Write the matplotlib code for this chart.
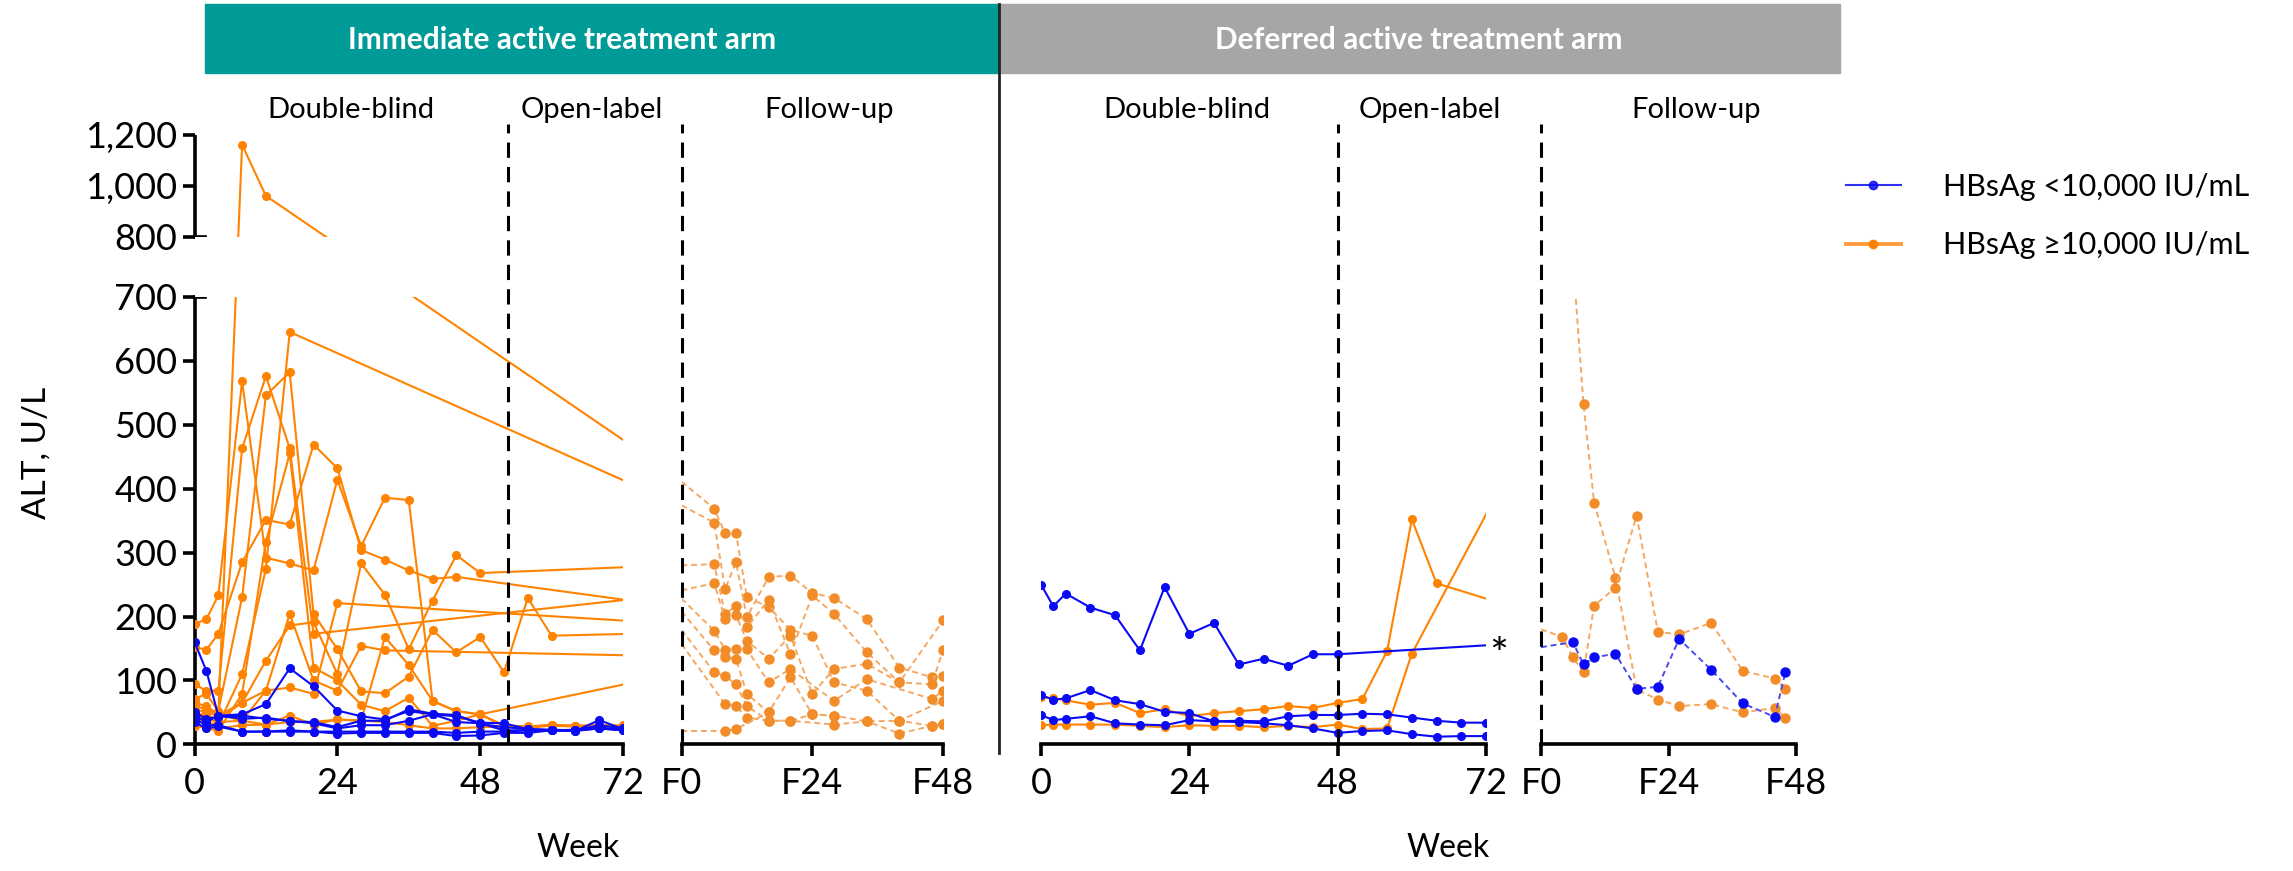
import numpy as np
import matplotlib
matplotlib.use('Agg')
import matplotlib.pyplot as plt
import matplotlib.transforms as mtransforms
from matplotlib.lines import Line2D
from matplotlib.patches import Rectangle

plt.rcParams['font.family'] = ['Lato', 'DejaVu Sans']

# ---------------- data ----------------
WEEKS = [0, 2, 4, 8, 12, 16, 20, 24, 28, 32, 36, 40, 44, 48, 52, 56, 60, 64, 68, 72]

# immediate arm, double-blind + open-label (weeks 0-72)
imm_blue = [
    [160, 115, 45, 47, 63, 119, 91, 53, 44, 39, 52, 47, 44, 34, 33, 24, 22, 21, 38, 24],
    [50, 40, 43, 45, 40, 37, 33, 25, 30, 30, 37, 47, 35, 33, 22, 22, 22, 21, 25, 22],
    [40, 30, 30, 20, 20, 20, 20, 17, 18, 18, 18, 18, 13, 14, 18, 18, 22, 22, 25, 22],
    [45, 35, 45, 40, 42, 36, 35, 27, 37, 37, 55, 48, 46, 32, 27, 24, 23, 22, 30, 25],
    [35, 25, 28, 20, 20, 22, 20, 20, 20, 20, 20, 20, 18, 20, 20, 22, 22, 23, 26, 24],
]
imm_orange_weeks = [
    [0, 2, 4, 8, 12, 84],
    WEEKS,
    [0, 2, 4, 8, 12, 16, 20, 24, 28, 32, 36, 40, 44, 96],
    [0, 2, 4, 8, 12, 16, 20, 96],
    [0, 2, 4, 8, 12, 16, 20, 24, 28, 32, 36, 40, 44, 48, 52, 56, 60, 96],
    [0, 2, 4, 8, 12, 16, 96],
    [0, 2, 4, 8, 12, 16, 20, 24, 28, 32, 36, 40, 44, 48, 96],
    [0, 2, 4, 8, 12, 16, 20, 24, 28, 32, 36, 40, 44, 48, 96],
    [0, 2, 4, 8, 12, 16, 20, 24, 28, 32, 96],
    [0, 2, 4, 8, 12, 16, 20, 24, 96],
    WEEKS,
    WEEKS,
]
imm_orange_alt = [
    [65, 60, 47, 1160, 960, 400],
    [188, 196, 233, 568, 292, 283, 272, 414, 310, 386, 382, 68, 52, 47, 30, 28, 31, 29, 30, 29],
    [152, 148, 173, 285, 351, 344, 469, 432, 304, 289, 272, 259, 262, 196],
    [94, 84, 84, 463, 576, 463, 173, 250],
    [71, 79, 52, 230, 546, 582, 204, 149, 83, 80, 106, 179, 144, 168, 113, 229, 170, 178],
    [40, 35, 30, 110, 275, 645, 314],
    [29, 26, 21, 79, 317, 455, 120, 100, 62, 52, 73, 29, 37, 47, 140],
    [50, 45, 40, 65, 131, 186, 191, 110, 283, 234, 149, 225, 296, 268, 286],
    [60, 55, 47, 37, 84, 204, 100, 84, 154, 147, 135],
    [55, 50, 45, 65, 84, 89, 79, 221, 180],
    [45, 40, 35, 37, 31, 45, 31, 39, 37, 168, 124, 68, 52, 47, 28, 27, 29, 28, 28, 30],
    [30, 28, 25, 30, 31, 35, 35, 39, 37, 35, 30, 25, 25, 27, 28, 26, 30, 29, 30, 28],
]

# immediate arm, follow-up (weeks F0-F48)
imm_fu_weeks = [
    [0, 6, 8, 10, 12, 16, 20, 24, 28, 34, 40, 46, 48],
    [0, 6, 8, 10, 12, 16, 20, 24, 28, 34, 40, 46, 48],
    [0, 6, 8, 10, 12, 16, 20, 24, 28, 34, 40, 46, 48],
    [0, 6, 8, 10, 12, 16, 20, 24, 28, 34, 40, 48],
    [0, 6, 8, 10, 12, 16, 20, 28, 34, 46, 48],
    [0, 6, 8, 10, 12, 16, 20, 24, 28, 34, 40, 48],
    [0, 6, 8, 10, 12, 16, 20, 28, 34, 40, 46, 48],
    [0, 8, 10, 12, 16, 20, 24, 28],
    [0, 8, 10, 16],
]
imm_fu_alt = [
    [411, 369, 330, 330, 230, 215, 179, 170, 97, 84, 37, 29, 32],
    [374, 347, 243, 285, 199, 262, 264, 237, 229, 196, 120, 105, 107],
    [280, 282, 204, 217, 183, 226, 141, 233, 204, 144, 97, 94, 148],
    [241, 252, 196, 202, 162, 134, 170, 79, 118, 126, 97, 194],
    [228, 178, 148, 149, 149, 97, 118, 68, 102, 71, 84],
    [208, 147, 136, 134, 79, 50, 105, 47, 45, 36, 37, 68],
    [179, 113, 107, 94, 60, 37, 37, 31, 36, 17, 29, 32],
    [157, 63, 60, 42, 37, 37, 47, 45],
    [21, 21, 24, 50],
]

# deferred arm, double-blind + open-label
def_blue_weeks = [WEEKS[:14] + [96], WEEKS, WEEKS]
def_blue_alt = [
    [250, 216, 236, 214, 202, 147, 246, 173, 190, 125, 134, 123, 141, 141, 169],
    [77, 70, 72, 85, 69, 63, 51, 49, 36, 37, 36, 44, 46, 46, 48, 47, 42, 37, 34, 34],
    [46, 38, 40, 44, 33, 31, 30, 38, 36, 35, 33, 30, 25, 18, 21, 22, 16, 12, 13, 13],
]
def_orange_weeks = [WEEKS[:18] + [80], WEEKS[:17] + [76]]
def_orange_alt = [
    [74, 72, 69, 62, 65, 49, 55, 44, 49, 52, 55, 60, 57, 65, 71, 146, 352, 252, 204],
    [30, 31, 31, 31, 31, 29, 27, 30, 29, 29, 27, 29, 27, 31, 24, 25, 142, 432],
]

# deferred arm, follow-up
def_fu_blue_weeks = [0, 6, 8, 10, 14, 18, 22, 26, 32, 38, 44, 46]
def_fu_blue_alt = [152, 160, 125, 136, 142, 87, 90, 165, 117, 64, 43, 113]
def_fu_orange_weeks = [
    [4, 6, 8, 10, 14, 18, 22, 26, 32, 38, 44, 46],
    [0, 4, 6, 8, 10, 14, 18, 22, 26, 32, 38, 44, 46],
]
def_fu_orange_alt = [
    [1000, 760, 532, 378, 261, 86, 70, 60, 63, 50, 57, 42],
    [180, 168, 136, 113, 217, 245, 358, 176, 172, 190, 115, 103, 86],
]

# ---------------- style ----------------
W, H = 2293, 871
BLUE = '#0A0AF5'
ORANGE = '#FF8300'
FU_ORANGE = '#F28C28'
FU_ORANGE_LINE = '#F4A862'
FU_BLUE_LINE = '#4A4AF0'
TEAL = '#009A97'
GREY = '#A6A6A6'
TICK_FS = 26

Y0, Y700, Y1200 = 744.4, 296.9, 134.5   # pixel rows of 0, 700, 1200
DASH_TOP = 124


def rect(x0, x1, ybot, ytop):
    return [x0 / W, 1 - ybot / H, (x1 - x0) / W, (ybot - ytop) / H]


def fwd(y):
    y = np.asarray(y, dtype=float)
    return np.where(y <= 700, y, np.where(y <= 800, 700 + (y - 700) * 0.939, 793.9 + (y - 800) * 0.4))


def inv(t):
    t = np.asarray(t, dtype=float)
    return np.where(t <= 700, t, np.where(t <= 793.9, 700 + (t - 700) / 0.939, 800 + (t - 793.9) / 0.4))


def style_x(ax, ticks, labels):
    for s in ['top', 'right', 'left']:
        ax.spines[s].set_visible(False)
    ax.spines['bottom'].set_linewidth(2.6)
    ax.set_xticks(ticks, labels)
    ax.tick_params(axis='x', length=8.5, width=2.6, pad=8, labelsize=TICK_FS)
    ax.tick_params(axis='y', left=False, labelleft=False)


def vdash(ax, x, top):
    tr = mtransforms.blended_transform_factory(ax.transData, ax.transAxes)
    ax.plot([x, x], [0, top], transform=tr, color='black', lw=2.2,
            ls=(0, (5, 3)), clip_on=False, zorder=6)


fig = plt.figure(figsize=(W / 100, H / 100), dpi=100)

# ---------------- immediate arm, weeks 0-72 ----------------
ax = fig.add_axes(rect(194.5, 623, Y0, Y1200))
ax.set_yscale('function', functions=(fwd, inv))
ax.set_ylim(0, 1200)
ax.set_xlim(0, 72)
style_x(ax, [0, 24, 48, 72], ['0', '24', '48', '72'])
yt = [0, 100, 200, 300, 400, 500, 600, 700, 800, 1000, 1200]
ax.set_yticks(yt, [f'{v:,}' for v in yt])
ax.yaxis.set_minor_locator(matplotlib.ticker.NullLocator())
ax.tick_params(axis='y', left=True, labelleft=True, length=8.5, width=2.6, pad=4, labelsize=TICK_FS)
tr = mtransforms.blended_transform_factory(ax.transAxes, ax.transData)
ax.plot([0, 0], [0, 700], transform=tr, color='black', lw=2.6, clip_on=False, solid_capstyle='butt')
ax.plot([0, 0], [800, 1200], transform=tr, color='black', lw=2.6, clip_on=False, solid_capstyle='butt')
ax.plot([0, 0.025], [700, 700], transform=tr, color='black', lw=2.6, clip_on=False)
ax.plot([0, 0.025], [800, 800], transform=tr, color='black', lw=2.6, clip_on=False)
ax.axhspan(700, 800, color='white', lw=0, zorder=3)

for wk, alt in zip(imm_orange_weeks, imm_orange_alt):
    ax.plot(wk, alt, color=ORANGE, lw=1.5, marker='o', ms=5.5, zorder=2)
for alt in imm_blue:
    ax.plot(WEEKS, alt, color=BLUE, lw=1.5, marker='o', ms=5.5, zorder=2.5)
vdash(ax, 52.6, (Y0 - DASH_TOP) / (Y0 - Y1200))

# ---------------- immediate arm, follow-up ----------------
ax = fig.add_axes(rect(681.5, 943, Y0, Y700))
ax.set_ylim(0, 700)
ax.set_xlim(0, 48)
style_x(ax, [0, 24, 48], ['F0', 'F24', 'F48'])
for wk, alt in zip(imm_fu_weeks, imm_fu_alt):
    ax.plot(wk, alt, color=FU_ORANGE_LINE, lw=1.4, ls=(0, (3, 2)), marker='o', ms=6.5,
            mfc=FU_ORANGE, mec=FU_ORANGE, markevery=list(range(1, len(wk))))
vdash(ax, 0, (Y0 - DASH_TOP) / (Y0 - Y700))

# ---------------- deferred arm, weeks 0-72 ----------------
ax = fig.add_axes(rect(1041, 1486, Y0, Y700))
ax.set_ylim(0, 700)
ax.set_xlim(0, 72)
style_x(ax, [0, 24, 48, 72], ['0', '24', '48', '72'])
for wk, alt in zip(def_orange_weeks, def_orange_alt):
    ax.plot(wk, alt, color=ORANGE, lw=1.5, marker='o', ms=5.5)
for wk, alt in zip(def_blue_weeks, def_blue_alt):
    ax.plot(wk, alt, color=BLUE, lw=1.5, marker='o', ms=5.5)
ax.text(72.6, 138, '*', fontsize=32, ha='left', va='center', clip_on=False)
vdash(ax, 48, (Y0 - DASH_TOP) / (Y0 - Y700))

# ---------------- deferred arm, follow-up ----------------
ax = fig.add_axes(rect(1541, 1796, Y0, Y700))
ax.set_ylim(0, 700)
ax.set_xlim(0, 48)
style_x(ax, [0, 24, 48], ['F0', 'F24', 'F48'])
for wk, alt in zip(def_fu_orange_weeks, def_fu_orange_alt):
    ax.plot(wk, alt, color=FU_ORANGE_LINE, lw=1.4, ls=(0, (3, 2)), marker='o', ms=6.5,
            mfc=FU_ORANGE, mec=FU_ORANGE, markevery=list(range(1, len(wk))))
ax.plot(def_fu_blue_weeks, def_fu_blue_alt, color=FU_BLUE_LINE, lw=1.4, ls=(0, (3, 2)),
        marker='o', ms=6.5, mfc=BLUE, mec=BLUE, markevery=list(range(1, len(def_fu_blue_weeks))))
vdash(ax, 0, (Y0 - DASH_TOP) / (Y0 - Y700))

# ---------------- headers, labels, legend ----------------
fig.patches.append(Rectangle((205 / W, 1 - 73 / H), (999 - 205) / W, 69 / H,
                             transform=fig.transFigure, color=TEAL, zorder=0))
fig.patches.append(Rectangle((999 / W, 1 - 73 / H), (1840 - 999) / W, 69 / H,
                             transform=fig.transFigure, color=GREY, zorder=0))
fig.lines.append(Line2D([999 / W, 999 / W], [1 - 4 / H, 1 - 753 / H],
                        transform=fig.transFigure, color='#222222', lw=2))

fig.text(562 / W, 1 - 40 / H, 'Immediate active treatment arm', color='white',
         fontsize=21.5, fontweight='bold', ha='center', va='center')
fig.text(1419 / W, 1 - 40 / H, 'Deferred active treatment arm', color='white',
         fontsize=21.5, fontweight='bold', ha='center', va='center')

phases = [(351, 'Double-blind'), (592, 'Open-label'), (829, 'Follow-up'),
          (1187, 'Double-blind'), (1430, 'Open-label'), (1696, 'Follow-up')]
for px, label in phases:
    fig.text(px / W, 1 - 110 / H, label, fontsize=21, ha='center', va='center')

fig.text(36.5 / W, 1 - 453 / H, 'ALT, U/L', rotation=90, fontsize=24, ha='center', va='center')
fig.text(578 / W, 1 - 848 / H, 'Week', fontsize=23, ha='center', va='center')
fig.text(1448 / W, 1 - 848 / H, 'Week', fontsize=23, ha='center', va='center')

handles = [
    Line2D([], [], color=BLUE, lw=1.5, marker='o', ms=6, alpha=0.85),
    Line2D([], [], color='#FF9A3C', lw=2.8, marker='o', ms=6, mfc=ORANGE, mec=ORANGE),
]
fig.legend(handles, ['HBsAg <10,000 IU/mL', 'HBsAg \u226510,000 IU/mL'],
           loc='center left', bbox_to_anchor=(1818 / W, 1 - 216 / H), frameon=False,
           fontsize=22, handlelength=1.8, handletextpad=1.4, labelspacing=1.0)

fig.savefig('out.png', dpi=100)
